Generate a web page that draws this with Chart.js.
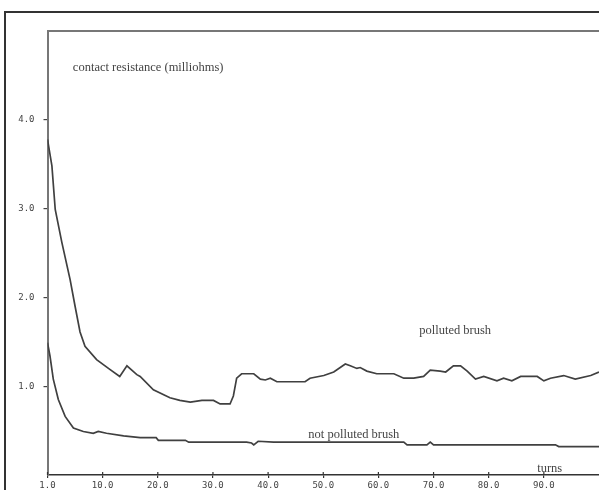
<!DOCTYPE html>
<html>
<head>
<meta charset="utf-8">
<script src="https://cdn.jsdelivr.net/npm/chart.js@4.4.1/dist/chart.umd.min.js"></script>
<style>
  html, body { margin: 0; padding: 0; background: #fff; }
  #wrap { width: 599px; height: 490px; position: relative; }
</style>
</head>
<body>
<div id="wrap"><canvas id="c" width="599" height="490"></canvas></div>
<script>
// ---- data ----
const pollutedTurns = [0, 0.8, 1.4, 2.6, 4.1, 5.0, 5.9, 6.8, 8.9, 11.3, 13.1, 14.4, 16.2, 16.8, 19.2, 22.2, 24.0, 25.9, 28.0, 30.1, 31.3, 33.1, 33.7, 34.3, 35.2, 37.4, 38.6, 39.5, 40.4, 41.6, 44.0, 46.7, 47.6, 50.1, 51.9, 54.0, 54.9, 56.1, 56.7, 57.9, 59.7, 62.8, 64.6, 66.4, 68.2, 69.4, 71.2, 72.2, 73.6, 74.9, 76.1, 77.6, 79.1, 81.5, 82.7, 84.2, 85.8, 88.8, 90.0, 91.2, 93.6, 95.7, 98.5, 100];
const pollutedRes = [3.78, 3.48, 2.99, 2.62, 2.20, 1.90, 1.61, 1.45, 1.30, 1.19, 1.11, 1.23, 1.13, 1.11, 0.96, 0.87, 0.84, 0.82, 0.84, 0.84, 0.80, 0.80, 0.89, 1.09, 1.14, 1.14, 1.08, 1.07, 1.09, 1.05, 1.05, 1.05, 1.09, 1.12, 1.16, 1.25, 1.23, 1.20, 1.21, 1.17, 1.14, 1.14, 1.09, 1.09, 1.11, 1.18, 1.17, 1.16, 1.23, 1.23, 1.17, 1.08, 1.11, 1.06, 1.09, 1.06, 1.11, 1.11, 1.06, 1.09, 1.12, 1.08, 1.12, 1.16];

const cleanTurns = [0, 0.45, 1.05, 1.96, 3.2, 4.7, 6.5, 8.3, 9.2, 10.7, 13.8, 16.8, 19.7, 20.1, 25.0, 25.6, 36.1, 37.0, 37.4, 38.2, 41.0, 64.6, 65.2, 68.8, 69.4, 70.0, 92.1, 92.7, 100];
const cleanRes = [1.49, 1.34, 1.08, 0.85, 0.66, 0.53, 0.49, 0.47, 0.49, 0.47, 0.44, 0.42, 0.42, 0.39, 0.39, 0.37, 0.37, 0.36, 0.34, 0.38, 0.37, 0.37, 0.34, 0.34, 0.37, 0.34, 0.34, 0.32, 0.32];

const xTickValues = [0, 10, 20, 30, 40, 50, 60, 70, 80, 90];
const xTickLabels = ["1.0", "10.0", "20.0", "30.0", "40.0", "50.0", "60.0", "70.0", "80.0", "90.0"];
const yTickValues = [1, 2, 3, 4];
const yTickLabels = ["1.0", "2.0", "3.0", "4.0"];

const annotationTexts = ["contact resistance (milliohms)", "polluted brush", "not polluted brush", "turns"];
const annotationTurns = [4.6, 67.4, 47.3, 88.8];
const annotationRes = [4.59, 1.62, 0.455, 0.07];

// ---- build ----
const toPts = (xs, ys) => xs.map((x, i) => ({ x: x, y: ys[i] }));

const framePlugin = {
  id: 'frames',
  beforeDraw(chart) {
    const ctx = chart.ctx;
    const a = chart.chartArea;
    ctx.save();
    ctx.fillStyle = '#fff';
    ctx.fillRect(0, 0, chart.width, chart.height);
    ctx.strokeStyle = '#333';
    ctx.lineWidth = 2;
    ctx.beginPath();
    ctx.moveTo(5, chart.height);
    ctx.lineTo(5, 12);
    ctx.lineTo(chart.width, 12);
    ctx.stroke();
    ctx.strokeStyle = '#777';
    ctx.lineWidth = 2;
    ctx.beginPath();
    ctx.moveTo(a.left, a.top);
    ctx.lineTo(a.right, a.top);
    ctx.stroke();
    ctx.restore();
  },
  afterDraw(chart) {
    const ctx = chart.ctx;
    const xs = chart.scales.x, ys = chart.scales.y;
    ctx.save();
    // small tick marks above the x axis line
    ctx.strokeStyle = '#333';
    ctx.lineWidth = 1.2;
    xTickValues.forEach(v => {
      const px = xs.getPixelForValue(v);
      ctx.beginPath();
      ctx.moveTo(px, xs.top);
      ctx.lineTo(px, xs.top - 3);
      ctx.stroke();
    });
    ctx.fillStyle = '#444';
    ctx.font = '12.5px "Liberation Serif", serif';
    ctx.textAlign = 'left';
    ctx.textBaseline = 'middle';
    annotationTexts.forEach((t, i) => {
      ctx.fillText(t, xs.getPixelForValue(annotationTurns[i]), ys.getPixelForValue(annotationRes[i]));
    });
    ctx.restore();
  }
};

new Chart(document.getElementById('c'), {
  type: 'scatter',
  data: {
    datasets: [
      { label: 'polluted brush', data: toPts(pollutedTurns, pollutedRes), showLine: true, borderColor: '#404040', borderWidth: 1.7, pointRadius: 0, tension: 0, fill: false },
      { label: 'not polluted brush', data: toPts(cleanTurns, cleanRes), showLine: true, borderColor: '#404040', borderWidth: 1.7, pointRadius: 0, tension: 0, fill: false }
    ]
  },
  options: {
    responsive: false,
    animation: false,
    devicePixelRatio: 1,
    layout: { padding: { top: 31, left: 0, right: 0, bottom: 0 } },
    plugins: { legend: { display: false }, tooltip: { enabled: false } },
    scales: {
      x: {
        type: 'linear', min: 0, max: 100, position: 'bottom',
        afterBuildTicks: (s) => { s.ticks = xTickValues.map(v => ({ value: v })); },
        afterFit: (s) => { s.height = 15; },
        border: { display: true, color: '#333', width: 1.5 },
        grid: { display: true, drawOnChartArea: false, drawTicks: true, tickLength: 3, color: '#333', lineWidth: 1.2 },
        ticks: {
          autoSkip: false, maxRotation: 0, padding: 2,
          color: '#444', font: { family: '"DejaVu Sans Mono", monospace', size: 9 },
          callback: (v) => { const i = xTickValues.indexOf(v); return i >= 0 ? xTickLabels[i] : ''; }
        }
      },
      y: {
        type: 'linear', min: 0, max: 5.0, position: 'left',
        afterBuildTicks: (s) => { s.ticks = yTickValues.map(v => ({ value: v })); },
        afterFit: (s) => { s.width = 47.5; },
        border: { display: true, color: '#777', width: 2 },
        grid: { display: true, drawOnChartArea: false, drawTicks: true, tickLength: 4, color: '#444', lineWidth: 1.2 },
        ticks: {
          padding: 9,
          color: '#444', font: { family: '"DejaVu Sans Mono", monospace', size: 9 },
          callback: (v) => { const i = yTickValues.indexOf(v); return i >= 0 ? yTickLabels[i] : ''; }
        }
      }
    }
  },
  plugins: [framePlugin]
});
</script>
</body>
</html>
